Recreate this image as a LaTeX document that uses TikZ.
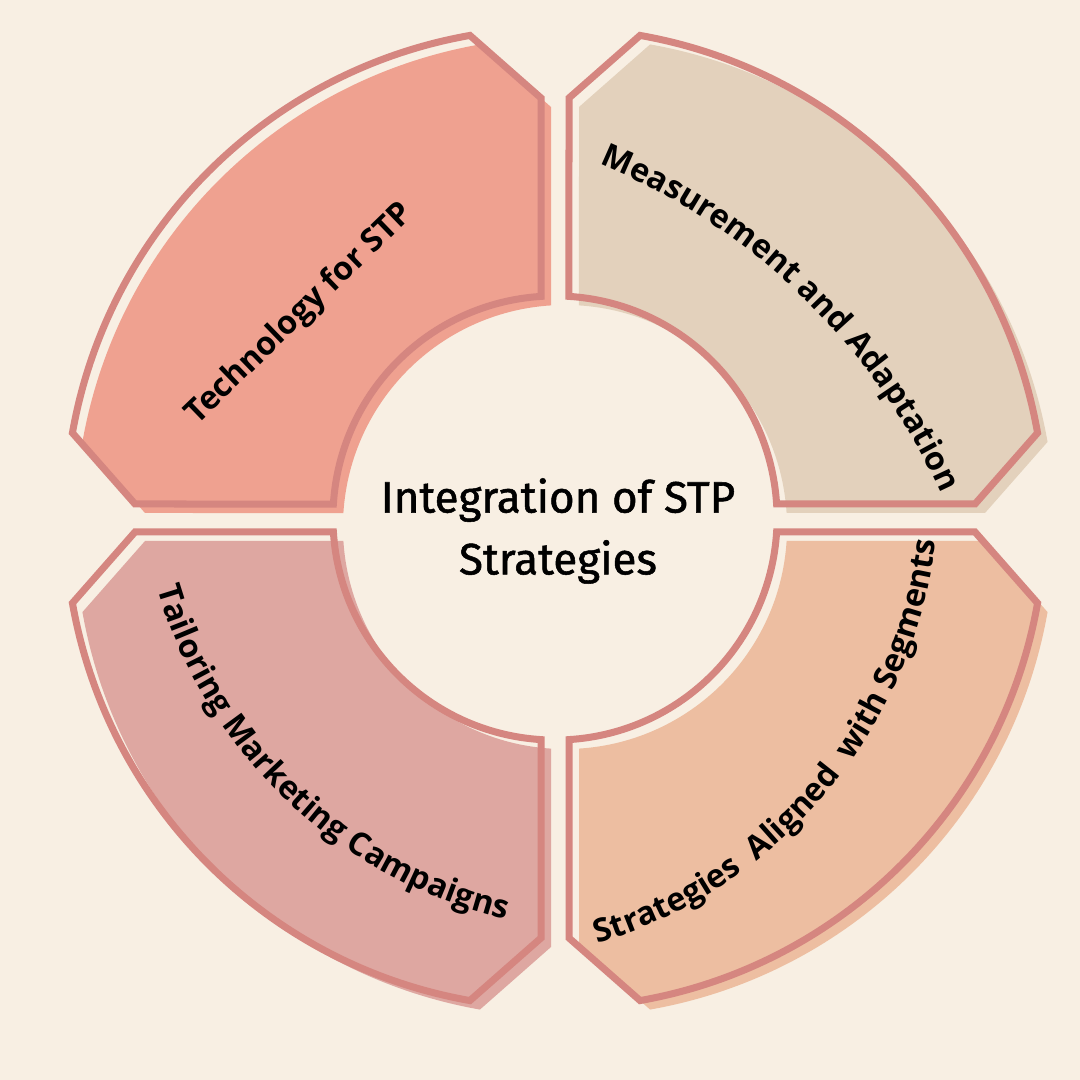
\documentclass[tikz,border=0pt]{standalone}
\usepackage{fontspec}
\setsansfont{Open Sans}
\newfontfamily\titlefont{Fira Sans}[FakeBold=1.2]
\usetikzlibrary{decorations.text}
\definecolor{stpcream}{HTML}{F8EFE3}
\definecolor{stprose}{HTML}{D58680}
\definecolor{stpsalmon}{HTML}{EFA190}
\definecolor{stpsand}{HTML}{E3D1BC}
\definecolor{stpdusty}{HTML}{DEA7A1}
\definecolor{stppeach}{HTML}{EDBEA1}
\newcommand{\ringpart}{(0.14,4.2) -- (80:4.9) arc[start angle=80, end angle=10, radius=4.9]
  -- (4.2,0.14) -- (2.216,0.14) arc[start angle=3.6, end angle=86.4, radius=2.22] -- cycle}
\newcommand{\labelfont}{\sffamily\bfseries\fontsize{9.2}{11}\selectfont}

\begin{document}
\begin{tikzpicture}[
    outline/.style={draw=stprose, line width=0.07cm},
    backfill/.style={shift={(0.10,-0.09)}},
    curved/.style={decorate, decoration={text along path, text align=center, text={|\labelfont|#1}}}
  ]
    \fill[stpcream] (-5.55,-5.62) rectangle (5.25,5.18);
    \useasboundingbox (-5.55,-5.62) rectangle (5.25,5.18);

    \fill[stpsand,   backfill]             \ringpart;
    \fill[stpsalmon, backfill, rotate=90]  \ringpart;
    \fill[stpdusty,  backfill, rotate=180] \ringpart;
    \fill[stppeach,  backfill, rotate=270] \ringpart;

    \draw[outline]             \ringpart;
    \draw[outline, rotate=90]  \ringpart;
    \draw[outline, rotate=180] \ringpart;
    \draw[outline, rotate=270] \ringpart;

    \node[font=\titlefont\fontsize{12.5}{17.6}\selectfont, align=center] (title) at (0.03,-0.13)
      {Integration of STP\\Strategies};
    \node[font=\labelfont, rotate=44] (tech) at (-2.55,2.04) {Technology for STP};

    \path[curved={Measurement and Adaptation}, shift={(-2.02,-2.43)}]
      (72:6.46) arc[start angle=72, end angle=20, radius=6.46];
    \path[curved={Tailoring Marketing Campaigns}, shift={(0.61,0.64)}]
      (188:4.78) arc[start angle=188, end angle=265, radius=4.78];
    \path[curved={Strategies {~}Aligned {~}with Segments}, shift={(-0.96,0.34)}]
      (-78:4.80) arc[start angle=-78, end angle=-2, radius=4.80];
  \end{tikzpicture}
\end{document}
